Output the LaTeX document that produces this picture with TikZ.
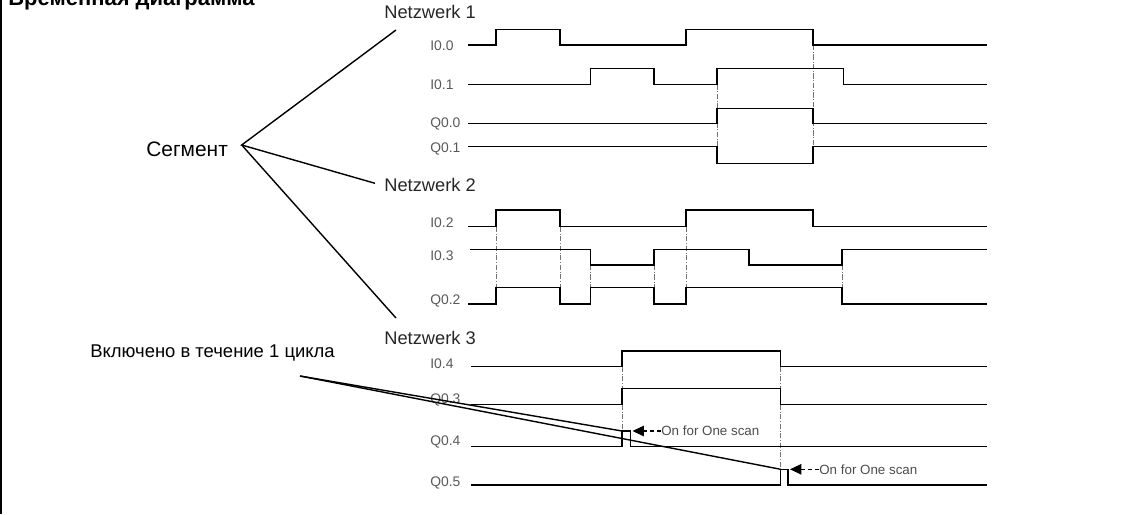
\documentclass[tikz,border=0pt]{standalone}
\usepackage{fontspec}
\setmainfont{Liberation Sans}
\usetikzlibrary{arrows.meta, positioning}

\begin{document}
\begin{tikzpicture}[x=0.02cm, y=-0.02cm,
    sig/.style={line width=0.85pt},
    guide/.style={densely dashdotted, black!55, line width=0.4pt},
    lead/.style={line width=0.8pt},
    lbl/.style={anchor=west, inner sep=0pt, text=black!65, font=\fontsize{7.9}{9}\selectfont},
    net/.style={anchor=west, inner sep=0pt, text=black!85, font=\fontsize{10.4}{12}\selectfont},
    note/.style={anchor=west, inner sep=0pt, font=\fontsize{10.5}{12}\selectfont},
    scan/.style={anchor=west, inner sep=0pt, text=black!70, font=\fontsize{7.6}{9}\selectfont},
    scanarrow/.style={dash pattern=on 2.5pt off 1.5pt, line width=0.6pt, -{Triangle[length=6.5pt,width=6pt]}}
]
\useasboundingbox (0,0) rectangle (1129,514);
\draw[line width=1.1pt] (1,0) -- (1,514);
\node[anchor=base west, inner sep=0pt, font=\bfseries\fontsize{12.5}{14}\selectfont] (title) at (8,5) {Временная диаграмма};

\node[net] (net1) at (384,12) {Netzwerk 1};
\node[net] (net2) at (384,185) {Netzwerk 2};
\node[net] (net3) at (384,338) {Netzwerk 3};

\node[note, font=\fontsize{11.9}{14}\selectfont] (seg) at (146,149) {Сегмент};
\node[note] (cycle) at (90,353) {Включено в течение 1 цикла};

% Netzwerk 1
\node[lbl] (i00) at (430,45.5) {I0.0};
\node[lbl] (i01) at (430,84.5) {I0.1};
\node[lbl] (q00) at (430,123.5) {Q0.0};
\node[lbl] (q01) at (430,149) {Q0.1};
\draw[guide] (717,84.3) -- (717,146.7);
\draw[guide] (813,45) -- (813,146.7);
\draw[sig] (468,45) -- (496,45) |- (560,29.3) |- (686,45) |- (813,29.3) |- (987,45);
\draw[sig] (468,84.3) -- (590.5,84.3) |- (654,68.3) |- (717,84.3) |- (843.5,68.3) |- (987,84.3);
\draw[sig] (468,123.3) -- (717,123.3) |- (813,108.3) |- (987,123.3);
\draw[sig] (468,146.7) -- (717,146.7) |- (813,163.3) |- (987,146.7);

% Netzwerk 2
\node[lbl] (i02) at (430,222.7) {I0.2};
\node[lbl] (i03) at (430,256) {I0.3};
\node[lbl] (q02) at (430,301) {Q0.2};
\foreach \t/\y in {496/226.7, 560/226.7, 590.5/265, 654/265, 686/226.7, 842/265}
  \draw[guide] (\t,\y) -- (\t,287.3);
\draw[sig] (468,226.7) -- (496,226.7) |- (560,210) |- (686,226.7) |- (813,210) |- (987,226.7);
\draw[sig] (470,249.3) -- (590.5,249.3) |- (654,265) |- (749,249.3) |- (842,265) |- (987,249.3);
\draw[sig] (468,304) -- (496,304) |- (560,287.3) |- (590.5,304) |- (654,287.3) |- (686,304) |- (842,287.3) |- (987,304);

% Netzwerk 3
\node[lbl] (i04) at (430,364) {I0.4};
\node[lbl] (q03) at (430,400) {Q0.3};
\node[lbl] (q04) at (430,442) {Q0.4};
\node[lbl] (q05) at (430,483) {Q0.5};
\draw[guide] (622,366.7) -- (622,431);
\draw[guide] (780.7,366.7) -- (780.7,469.3);
\draw[sig] (471,366.7) -- (622,366.7) |- (780.7,351) |- (987,366.7);
\draw[sig] (471,404.3) -- (622,404.3) |- (780.7,388.3) |- (987,404.3);
\draw[sig] (471,446.7) -- (622,446.7) |- (630.7,431) |- (987,446.7);
\draw[sig] (471,485) -- (780.7,485) |- (788,469.3) |- (987,485);

\node[scan] (scan1) at (661,431) {On for One scan};
\node[scan] (scan2) at (819,469.3) {On for One scan};
\coordinate (pulse1) at (632.5,431);
\coordinate (pulse2) at (790,469.3);
\draw[scanarrow] (scan1.west) -- (pulse1);
\draw[scanarrow] (scan2.west) -- (pulse2);

% leader lines
\coordinate (segTip) at (241.7,145);
\coordinate (n1end) at (396,30);
\coordinate (n2end) at (375,183.3);
\coordinate (n3end) at (396,318);
\draw[lead] (n1end) -- (segTip) -- (n2end);
\draw[lead] (segTip) -- (n3end);

\coordinate (cycTip) at (300,376);
\coordinate (rise1) at (622,431);
\coordinate (rise2) at (780.7,469.3);
\draw[lead] (cycTip) -- (rise1);
\draw[lead] (cycTip) -- (rise2);
\end{tikzpicture}
\end{document}
